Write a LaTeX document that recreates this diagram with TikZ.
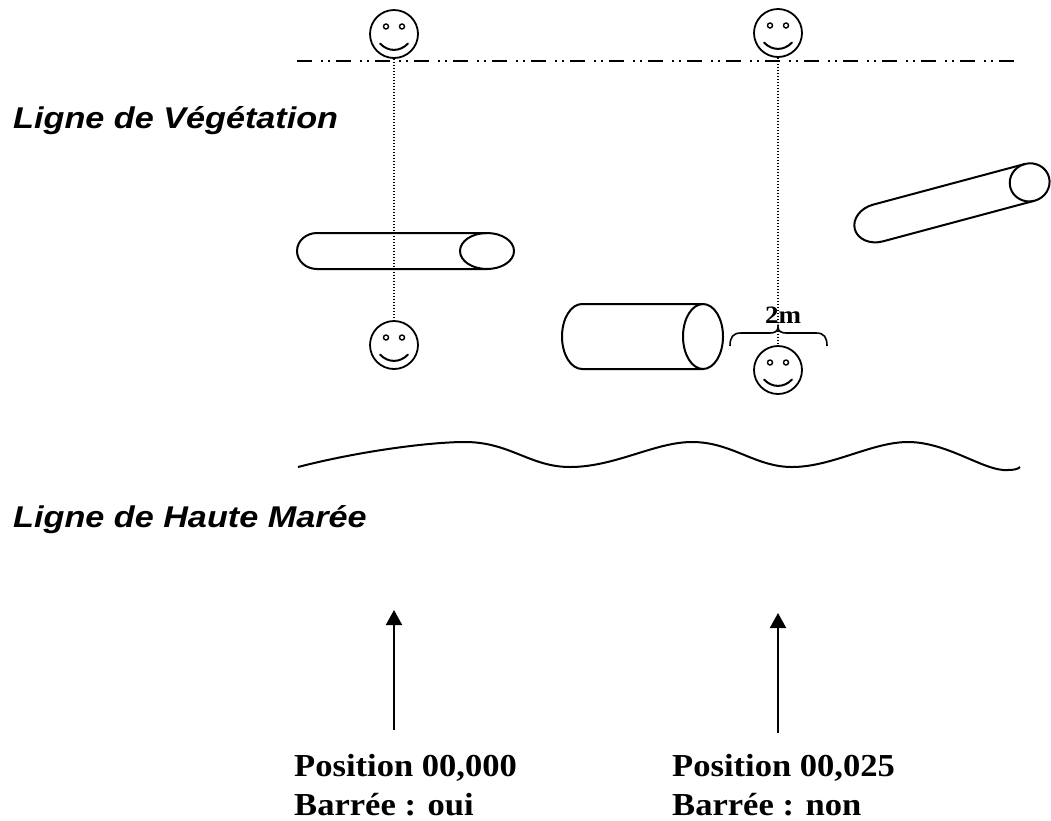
\documentclass[tikz,border=0pt]{standalone}
\usepackage{fontspec}
\usetikzlibrary{arrows.meta}
\newfontfamily\beachsans[FakeStretch=1.14]{Liberation Sans}
\newfontfamily\beachserif[FakeStretch=1.08]{Liberation Serif}
\tikzset{
  face/.style={circle, draw, line width=1.8pt, minimum size=48pt, inner sep=0pt},
  smile/.pic={
    \draw[line width=1.4pt] (-8,-7.5) circle[radius=2.5] (8,-7.5) circle[radius=2.5];
    \draw[line width=2pt, line cap=round] (-14,9.5) .. controls (-6,18) and (6,18) .. (14,9.5);
  },
  sightline/.style={line width=1.5pt, dash pattern=on 1.5pt off 1.5pt},
  vegline/.style={line width=2.5pt, dash pattern=on 15pt off 9pt on 2pt off 5pt on 2pt off 6pt},
  outline/.style={line width=2pt},
  pointer/.style={line width=2pt, -{Triangle[length=15pt,width=16pt]}},
  zonelabel/.style={anchor=base west, inner sep=0pt, font=\beachsans\bfseries\itshape\fontsize{30}{34}\selectfont},
  poslabel/.style={anchor=base west, inner sep=0pt, font=\beachserif\bfseries\fontsize{32}{36}\selectfont}
}
\begin{document}
\begin{tikzpicture}[x=1pt, y=-1pt]
\useasboundingbox (0,0) rectangle (1051,820);

% vegetation line
\coordinate (vegL) at (297,61);
\coordinate (vegR) at (1017,61);
\draw[vegline] (vegL) -- (vegR);

% observers
\node[face] (top1) at (394,34) {};
\node[face] (top2) at (778,33) {};
\node[face] (bot1) at (394,345) {};
\node[face] (bot2) at (778,370) {};
\foreach \f in {top1,top2,bot1,bot2} \pic at (\f) {smile};

% transect sight lines
\draw[sightline] (top1.south) -- (bot1.north);
\draw[sightline] (top2.south) -- (bot2.north);

% log 1 (horizontal, small)
\draw[outline] (487,233) -- (317,233) arc[start angle=270, end angle=90, x radius=20, y radius=18] -- (487,269);
\draw[outline] (487,251) ellipse[x radius=27, y radius=18];

% log 2 (thick cylinder)
\draw[outline] (703,304) -- (582,304) arc[start angle=270, end angle=90, x radius=20, y radius=32.5] -- (703,369);
\draw[outline] (703,336.5) ellipse[x radius=20, y radius=32.5];

% log 3 (tilted)
\begin{scope}[shift={(878,223)}, rotate=15]
  \draw[outline] (157,-19) -- (0,-19) arc[start angle=270, end angle=90, x radius=24, y radius=19] -- (157,19);
  \draw[outline] (157,0) ellipse[x radius=20, y radius=19];
\end{scope}

% 2 m brace
\draw[line width=1.6pt] (730,346) .. controls (730,337) and (733,333) .. (741,333) -- (770,333)
  .. controls (775,333) and (778,331) .. (778,327)
  .. controls (778,331) and (781,333) .. (786,333) -- (816,333)
  .. controls (824,333) and (827,337) .. (827,346);
\node[anchor=base, inner sep=0pt, font=\beachserif\bfseries\fontsize{25}{28}\selectfont] (dist) at (783,323) {2m};

% high tide line
\coordinate (tideL) at (298,467);
\coordinate (tideR) at (1020,467);
\draw[outline] (tideL) .. controls (360,451) and (430,442) .. (465,442)
  .. controls (510,442) and (530,467) .. (570,467)
  .. controls (615,467) and (655,442) .. (692,442)
  .. controls (732,442) and (755,467) .. (792,467)
  .. controls (832,467) and (872,442) .. (908,442)
  .. controls (948,442) and (985,472) .. (1008,470)
  .. controls (1014,470) and (1018,469) .. (tideR);

% zone labels
\node[zonelabel] (veglab) at (13,128) {Ligne de Végétation};
\node[zonelabel] (tidelab) at (13,527) {Ligne de Haute Marée};

% transect position arrows
\coordinate (a1s) at (394,730);
\coordinate (a1e) at (394,610);
\coordinate (a2s) at (778,733);
\coordinate (a2e) at (778,613);
\draw[pointer] (a1s) -- (a1e);
\draw[pointer] (a2s) -- (a2e);

% position labels
\node[poslabel] (p1a) at (294,776) {Position 00,000};
\node[poslabel] (p1b) at (294,815) {Barrée : oui};
\node[poslabel] (p2a) at (672,776) {Position 00,025};
\node[poslabel] (p2b) at (672,815) {Barrée : non};
\end{tikzpicture}
\end{document}
